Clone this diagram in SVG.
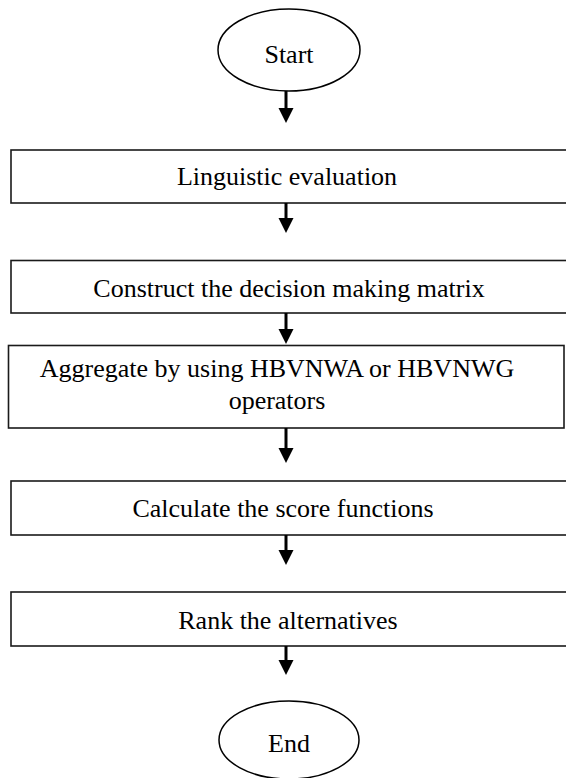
<svg xmlns="http://www.w3.org/2000/svg" width="566" height="778" viewBox="0 0 566 778">
<style>
.box{fill:#fff;stroke:#1a1a1a;stroke-width:1.6}
.term{fill:#fff;stroke:#000;stroke-width:1.5}
.lbl{font-family:"Liberation Serif","Times New Roman",serif;font-size:26px;fill:#000;text-anchor:middle}
.arr{stroke:#000;stroke-width:3;fill:none;marker-end:url(#ah)}
</style>
<defs>
<marker id="ah" markerUnits="userSpaceOnUse" markerWidth="16" markerHeight="16" refX="1" refY="7.5" orient="auto" viewBox="0 0 16 15">
<path d="M0,0 L15,7.5 L0,15 Z" fill="#000"/>
</marker>
</defs>
<rect width="566" height="778" fill="#fff"/>
<g id="start">
<ellipse class="term" cx="289" cy="50" rx="71" ry="41"/>
<text class="lbl" x="289" y="63">Start</text>
</g>
<g id="linguistic">
<rect class="box" x="11" y="150" width="580" height="53"/>
<text class="lbl" x="287" y="185">Linguistic evaluation</text>
</g>
<g id="construct">
<rect class="box" x="11" y="260.5" width="580" height="52.5"/>
<text class="lbl" x="289" y="297">Construct the decision making matrix</text>
</g>
<g id="aggregate">
<rect class="box" x="8.5" y="345.5" width="555.5" height="82.5"/>
<text class="lbl" x="277" y="377">Aggregate by using HBVNWA or HBVNWG</text>
<text class="lbl" x="277" y="409">operators</text>
</g>
<g id="calculate">
<rect class="box" x="11" y="481" width="580" height="54"/>
<text class="lbl" x="283" y="517">Calculate the score functions</text>
</g>
<g id="rank">
<rect class="box" x="11" y="592" width="580" height="54"/>
<text class="lbl" x="288" y="629">Rank the alternatives</text>
</g>
<g id="end">
<ellipse class="term" cx="289" cy="740" rx="70" ry="39"/>
<text class="lbl" x="289" y="752">End</text>
</g>
<g id="connectors">
<line class="arr" x1="286" y1="91" x2="286" y2="109"/>
<line class="arr" x1="286" y1="203" x2="286" y2="219"/>
<line class="arr" x1="286" y1="313" x2="286" y2="330"/>
<line class="arr" x1="286" y1="428" x2="286" y2="449"/>
<line class="arr" x1="286" y1="535" x2="286" y2="551"/>
<line class="arr" x1="286" y1="646" x2="286" y2="661"/>
</g>
</svg>
